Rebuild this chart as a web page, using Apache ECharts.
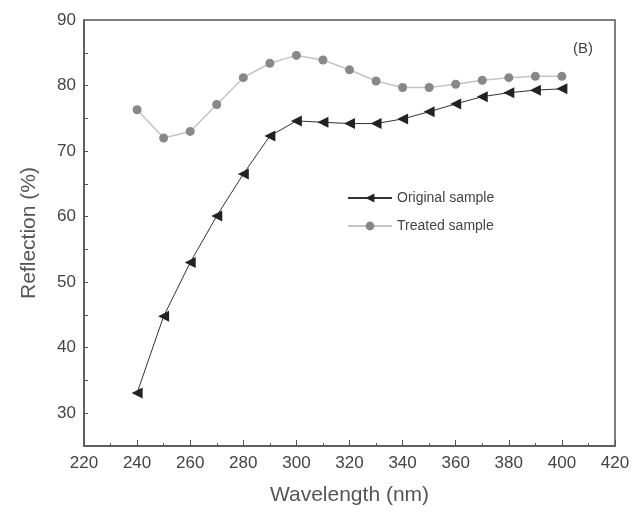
<!DOCTYPE html>
<html>
<head>
<meta charset="utf-8">
<script src="https://cdn.jsdelivr.net/npm/echarts@6/dist/echarts.min.js"></script>
<style>
html,body{margin:0;padding:0;background:#fff;}
#chart{width:636px;height:514px;}
</style>
</head>
<body>
<div id="chart"></div>
<script>
const wavelengths = [240,250,260,270,280,290,300,310,320,330,340,350,360,370,380,390,400];
const originalValues = [33.1,44.8,53.0,60.1,66.5,72.3,74.6,74.4,74.2,74.2,74.9,76.0,77.2,78.3,78.9,79.3,79.5];
const treatedValues = [76.3,72.0,73.0,77.1,81.2,83.4,84.6,83.9,82.4,80.7,79.7,79.7,80.2,80.8,81.2,81.4,81.4];
const yLabelValues = [30,40,50,60,70,80,90];
const yTickValues = [30,35,40,45,50,55,60,65,70,75,80,85];
const seriesNames = ['Original sample','Treated sample'];
const panelLabel = '(B)';

const font = "'Liberation Sans', Arial, sans-serif";
const chart = echarts.init(document.getElementById('chart'), null, {renderer:'canvas'});
const pairs = (vals) => wavelengths.map((w,i)=>[w, vals[i]]);

chart.setOption({
  backgroundColor:'#fff',
  animation:false,
  grid:{left:84,right:21,top:20,bottom:68,show:true,borderColor:'#555',borderWidth:1.5,backgroundColor:'transparent'},
  title:{text:panelLabel,left:568,top:36,textStyle:{fontFamily:font,fontSize:15,fontWeight:'normal',color:'#444'}},
  legend:{
    orient:'vertical',left:342,top:186,itemWidth:44,itemHeight:11,itemGap:14,
    data:seriesNames,
    textStyle:{fontFamily:font,fontSize:14,color:'#444'}
  },
  xAxis:{
    type:'value',min:220,max:420,interval:20,
    name:'Wavelength (nm)',nameLocation:'middle',nameGap:39,
    nameTextStyle:{fontFamily:font,fontSize:21,color:'#555'},
    axisLine:{show:true,lineStyle:{color:'#555',width:1.5}},
    axisTick:{show:true,inside:true,length:6,lineStyle:{color:'#555'}},
    minorTick:{show:true,splitNumber:2,length:3,lineStyle:{color:'#555'}},
    axisLabel:{fontFamily:font,fontSize:17,color:'#444',margin:9},
    splitLine:{show:false}
  },
  yAxis:{
    type:'value',min:25,max:90,
    name:'Reflection (%)',nameLocation:'middle',nameGap:44,
    nameTextStyle:{fontFamily:font,fontSize:21,color:'#555'},
    axisLine:{show:true,lineStyle:{color:'#555',width:1.5}},
    axisTick:{show:true,inside:true,length:4,customValues:yTickValues,lineStyle:{color:'#555'}},
    axisLabel:{fontFamily:font,fontSize:17,color:'#444',margin:8,customValues:yLabelValues},
    splitLine:{show:false}
  },
  series:[
    {
      name:seriesNames[0],type:'line',data:pairs(originalValues),
      symbol:'triangle',symbolSize:11,symbolRotate:90,
      lineStyle:{color:'#333',width:1},
      itemStyle:{color:'#222'}
    },
    {
      name:seriesNames[1],type:'line',data:pairs(treatedValues),
      symbol:'circle',symbolSize:9,
      lineStyle:{color:'#c4c4c4',width:1.5},
      itemStyle:{color:'#888'}
    }
  ]
});
</script>
</body>
</html>
